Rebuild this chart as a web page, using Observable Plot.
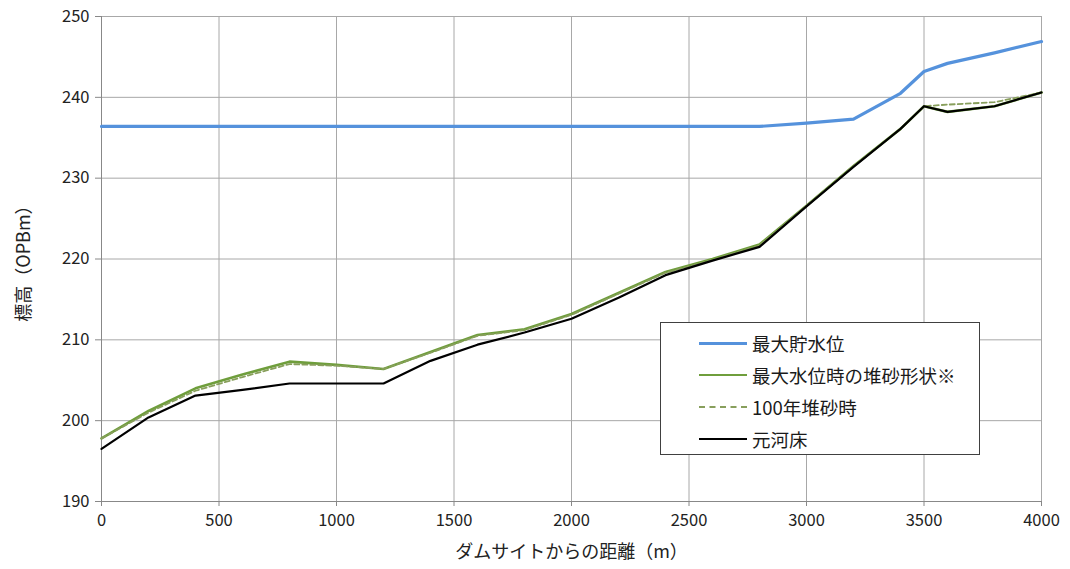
<!DOCTYPE html>
<html><head><meta charset="utf-8">
<script src="https://cdn.jsdelivr.net/npm/d3@7"></script>
<script src="https://cdn.jsdelivr.net/npm/@observablehq/plot@0.6"></script>
<style>
body{margin:0;background:#fff;font-family:"Noto Sans CJK JP","Noto Sans",sans-serif;}
#wrap{position:relative;width:1070px;height:569px;}
#legend{position:absolute;left:660px;top:322px;width:320px;height:133px;background:#fff;border:1.5px solid #404040;box-sizing:border-box;font-size:18.5px;color:#1a1a1a;}
.row{position:absolute;left:38px;display:flex;align-items:center;height:22px;}
.sw{width:48px;height:0;margin-right:5px;}
</style></head><body>
<div id="wrap"><div id="chart"></div><div id="legend"></div></div>
<script>
const distance = [0,200,400,600,800,1000,1200,1400,1600,1800,2000,2200,2400,2600,2800,3000,3200,3400,3500,3600,3800,4000];
const maxStorage = [236.4,236.4,236.4,236.4,236.4,236.4,236.4,236.4,236.4,236.4,236.4,236.4,236.4,236.4,236.4,236.8,237.3,240.5,243.2,244.2,245.5,246.9];
const sedimentMaxLevel = [197.8,201.2,204.0,205.7,207.3,206.9,206.4,208.5,210.6,211.3,213.2,215.8,218.4,220.0,221.8,226.6,231.5,236.1,238.9,238.2,238.9,240.6];
const sediment100yr = [197.8,201.0,203.7,205.4,207.0,206.8,206.4,208.4,210.5,211.2,213.1,215.7,218.3,219.9,221.7,226.6,231.5,236.1,238.9,239.1,239.4,240.6];
const originalBed = [196.5,200.4,203.1,203.8,204.6,204.6,204.6,207.4,209.4,210.9,212.6,215.2,218.0,219.8,221.5,226.5,231.4,236.1,238.9,238.2,238.9,240.6];
const xTicks = [0,500,1000,1500,2000,2500,3000,3500,4000];
const yTicks = [190,200,210,220,230,240,250];
const seriesNames = ["最大貯水位","最大水位時の堆砂形状※","100年堆砂時","元河床"];
const colors = ["#5592dc","#6f9e3c","#889f5c","#000000"];

const toRows = vals => distance.map((d,i)=>({x:d,y:vals[i]}));
const rows = [maxStorage,sedimentMaxLevel,sediment100yr,originalBed].map(toRows);

const chart = Plot.plot({
  width:1070, height:569,
  marginLeft:101, marginRight:29, marginTop:16, marginBottom:68,
  style:{fontFamily:'"Noto Sans CJK JP","Noto Sans",sans-serif', fontSize:"16px", color:"#222"},
  x:{domain:[0,4000]},
  y:{domain:[190,250]},
  marks:[
    Plot.gridX(xTicks,{stroke:"#a8a8a8",strokeOpacity:1,strokeWidth:1}),
    Plot.gridY(yTicks,{stroke:"#a8a8a8",strokeOpacity:1,strokeWidth:1}),
    Plot.ruleX([0],{stroke:"#888"}),
    Plot.ruleY([190],{stroke:"#888"}),
    Plot.line(rows[1],{x:"x",y:"y",stroke:colors[1],strokeWidth:2.6}),
    Plot.line(rows[2],{x:"x",y:"y",stroke:colors[2],strokeWidth:1.8,strokeDasharray:"5,3"}),
    Plot.line(rows[3],{x:"x",y:"y",stroke:colors[3],strokeWidth:2.2}),
    Plot.line(rows[0],{x:"x",y:"y",stroke:colors[0],strokeWidth:3.2}),
    Plot.axisX(xTicks,{tickSize:5,tickPadding:8,stroke:"#888",fontSize:16.5,tickFormat:"d",label:"ダムサイトからの距離（m）",labelAnchor:"center",labelArrow:"none",labelOffset:56}),
    Plot.axisY(yTicks,{tickSize:6,tickPadding:6,stroke:"#888",fontSize:16.5,tickFormat:"d",label:"標高（OPBm）",labelAnchor:"center",labelArrow:"none",labelOffset:84})
  ]
});
chart.querySelectorAll("g[aria-label='x-axis label'] text, g[aria-label='y-axis label'] text").forEach(t=>t.setAttribute("font-size","18"));
document.getElementById("chart").appendChild(chart);

const leg = document.getElementById("legend");
seriesNames.forEach((n,i)=>{
  const r = document.createElement("div");
  r.className="row"; r.style.top=(9+i*32)+"px";
  const s = document.createElement("div"); s.className="sw";
  const w = [3.2,2.6,2,2.2][i];
  s.style.borderTop = w+"px "+(i===2?"dashed":"solid")+" "+colors[i];
  r.appendChild(s);
  const t = document.createElement("span"); t.textContent=n; r.appendChild(t);
  leg.appendChild(r);
});
</script></body></html>
